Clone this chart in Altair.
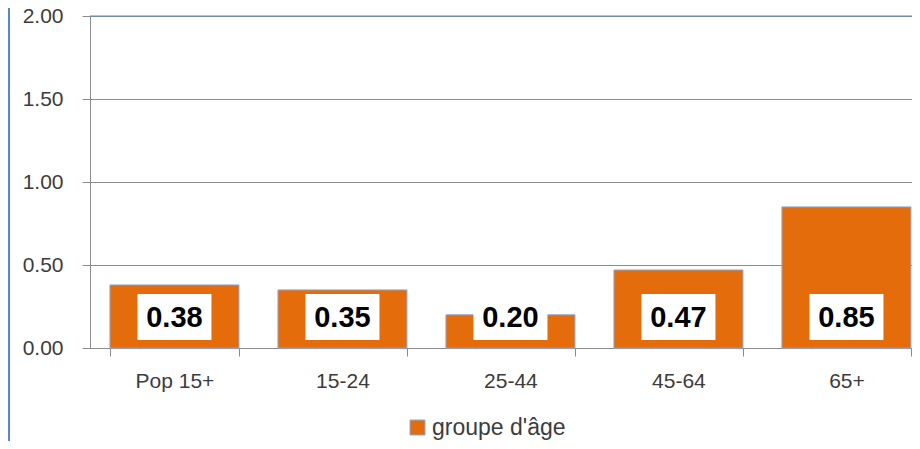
import altair as alt
import pandas as pd

categories = ["Pop 15+", "15-24", "25-44", "45-64", "65+"]
values = [0.38, 0.35, 0.20, 0.47, 0.85]
series_name = "groupe d'âge"
y_ticks = [0, 0.5, 1.0, 1.5, 2.0]

df = pd.DataFrame({"cat": categories, "value": values, "series": [series_name] * len(categories)})

FONT = "Liberation Sans"
ORANGE = "#E46C0A"
GRID = "#8C8C8C"
BLUE = "#5B87C5"
TXT = "#3C3C3C"

x_scale = alt.Scale(paddingInner=0.232, paddingOuter=0.0625, align=0.95)

x_enc = alt.X(
    "cat:N", sort=categories, title=None, scale=x_scale,
    axis=alt.Axis(labelAngle=0, labelFontSize=21, labelColor=TXT, labelFont=FONT,
                  labelPadding=14, tickSize=8, tickColor=GRID, domainColor=GRID,
                  tickBand="extent", grid=False),
)
y_scale = alt.Scale(domain=[0, 2])

base = alt.Chart(df)

bars = base.mark_bar(stroke="#8EA9DB", strokeWidth=1).encode(
    x=x_enc,
    y=alt.Y("value:Q", scale=y_scale, title=None,
            axis=alt.Axis(values=y_ticks, format=".2f", labelFontSize=21, labelColor=TXT,
                          labelFont=FONT, labelPadding=19, tickSize=8, tickColor=GRID,
                          domainColor=GRID, gridColor=GRID, gridWidth=1)),
    color=alt.Color("series:N", scale=alt.Scale(range=[ORANGE]),
                    legend=alt.Legend(title=None, orient="none", legendX=316, legendY=400,
                                      symbolType="square", symbolSize=225,
                                      symbolStrokeColor="#8EA9DB", symbolStrokeWidth=1,
                                      labelFontSize=23, labelColor=TXT, labelFont=FONT,
                                      padding=0, labelOffset=3)),
)

boxes = base.mark_bar(color="white", width=74).encode(
    x=alt.X("cat:N", sort=categories),
    y=alt.value(278),
    y2=alt.value(324),
)

labels = base.mark_text(fontSize=29, fontWeight="bold", font=FONT, color="black",
                        baseline="middle").encode(
    x=alt.X("cat:N", sort=categories),
    y=alt.value(302),
    text=alt.Text("value:Q", format=".2f"),
)

top_line = alt.Chart(pd.DataFrame({"v": [2.0]})).mark_rule(color=BLUE, strokeWidth=1).encode(
    y=alt.Y("v:Q", scale=y_scale)
)

left_border = alt.Chart(pd.DataFrame({"v": [0]})).mark_rule(color=BLUE, strokeWidth=2).encode(
    x=alt.value(-81), y=alt.value(-8), y2=alt.value(425)
)

chart = alt.layer(bars, top_line, boxes, labels, left_border).properties(
    width=822, height=332,
    autosize=alt.AutoSizeParams(type="none"),
    padding={"left": 82, "top": 8, "right": 0, "bottom": 93},
).configure_view(strokeWidth=0).configure(font=FONT)

chart.save("out.html", embed_options={"renderer": "svg", "actions": False})
